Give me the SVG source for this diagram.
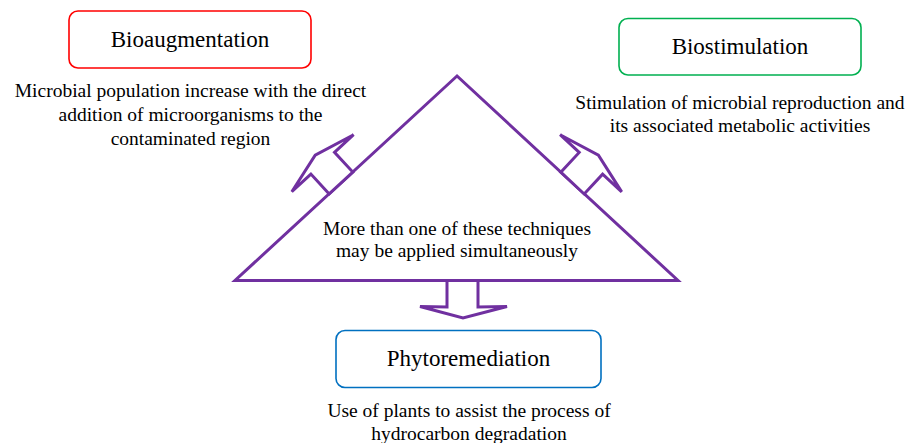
<svg xmlns="http://www.w3.org/2000/svg" width="917" height="443" viewBox="0 0 917 443">
<style>
.box{fill:#fff;stroke-width:1.6}
.title{font-family:'Liberation Serif','DejaVu Serif',serif;font-size:23px;fill:#000;text-anchor:middle}
.desc{font-family:'Liberation Serif','DejaVu Serif',serif;font-size:19.5px;fill:#000;text-anchor:middle}
.tri{fill:none;stroke:#7030A0;stroke-width:3;stroke-linejoin:miter}
.arr{fill:#fff;stroke:#7030A0;stroke-width:3;stroke-linejoin:miter}
</style>
<rect width="917" height="443" fill="#fff"/>
<g id="center">
<polygon class="tri" points="457,76 235,280.5 678,280.5"/>
<text class="desc" x="457" y="235">More than one of these techniques</text>
<text class="desc" x="457" y="257">may be applied simultaneously</text>
</g>
<g id="connectors">
<polygon class="arr" points="329.2,193.9 310.9,174.1 291.8,191.7 315.2,155.1 353.6,134.7 334.5,152.3 352.8,172.1"/>
<polygon class="arr" points="560.8,172.2 579.2,152.4 560.1,134.7 598.4,155.2 621.7,191.9 602.6,174.2 584.2,194"/>
<polygon class="arr" points="447,280.5 447,307 420,306.5 463,318 507,306.5 478,307 478,280.5"/>
</g>
<g id="bioaugmentation">
<rect class="box" x="69" y="11" width="242" height="57" rx="9" stroke="#FF0000"/>
<text class="title" x="190" y="47">Bioaugmentation</text>
<text class="desc" x="190.5" y="97">Microbial population increase with the direct</text>
<text class="desc" x="190.5" y="121">addition of microorganisms to the</text>
<text class="desc" x="190.5" y="145">contaminated region</text>
</g>
<g id="biostimulation">
<rect class="box" x="619" y="18.5" width="242" height="56.5" rx="9" stroke="#00B050"/>
<text class="title" x="740" y="54">Biostimulation</text>
<text class="desc" x="740" y="108.5">Stimulation of microbial reproduction and</text>
<text class="desc" x="740" y="131.5">its associated metabolic activities</text>
</g>
<g id="phytoremediation">
<rect class="box" x="336" y="330.5" width="265" height="57" rx="9" stroke="#0070C0"/>
<text class="title" x="468.5" y="366">Phytoremediation</text>
<text class="desc" x="469" y="417">Use of plants to assist the process of</text>
<text class="desc" x="469" y="440">hydrocarbon degradation</text>
</g>
</svg>
